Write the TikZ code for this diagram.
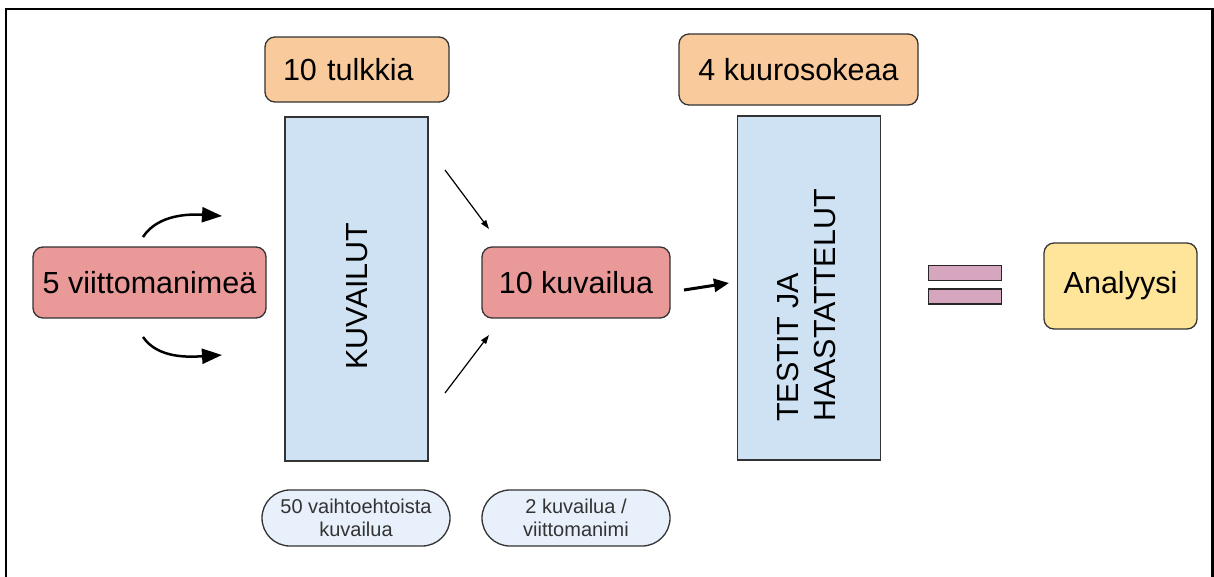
\documentclass[tikz,border=0pt]{standalone}
\usepackage{fontspec}
\setmainfont{Liberation Sans}
\usetikzlibrary{arrows.meta}
\definecolor{korange}{HTML}{F9CB9C}
\definecolor{kblue}{HTML}{CFE2F3}
\definecolor{kred}{HTML}{EA9999}
\definecolor{kyellow}{HTML}{FFE599}
\definecolor{kpink}{HTML}{D5A6BD}
\definecolor{kpale}{HTML}{E8F0FB}
\tikzset{
 box/.style={draw=black!80,line width=1.3pt,rounded corners=10pt,inner sep=0pt},
 tall/.style={draw=black!80,line width=1.3pt,fill=kblue,inner sep=0pt,minimum width=143pt,minimum height=344pt},
 pill/.style={draw=black!80,line width=1.3pt,fill=kpale,rounded corners=28pt,inner sep=0pt,
   minimum width=188pt,minimum height=56pt,align=center,text=black!80,font=\fontsize{20}{23}\selectfont},
 bar/.style={draw=black!85,line width=1.3pt,fill=kpink,inner sep=0pt,minimum width=73pt,minimum height=15pt},
}
\begin{document}
\begin{tikzpicture}[>={Triangle[length=20pt,width=15pt]},font=\fontsize{30.5}{37}\selectfont,x=1pt,y=-1pt]
 \useasboundingbox (0,0) rectangle (1214,576);
 % frame, open at the bottom
 \draw[line width=2.5pt] (6,577) |- (1212.5,9) -- (1212.5,577);
 % upper boxes
 \node[box,fill=korange,minimum width=184pt,minimum height=65pt,text width=148pt,align=left] (tulkit) at (357,69.5) {10 tulkkia};
 \node[box,fill=korange,minimum width=239pt,minimum height=71pt] (sokeat) at (798.5,69.5) {4 kuurosokeaa};
 % tall blocks
 \node[tall] (kuvailut) at (356.5,289) {};
 \node[rotate=90,inner sep=0pt] (kuvtext) at (357,296) {KUVAILUT};
 \node[tall] (testit) at (809,288) {};
 \node[rotate=90,inner sep=0pt,anchor=west,align=left] (testtext) at (806.5,422) {TESTIT JA\\HAASTATTELUT};
 % middle row
 \node[box,fill=kred,minimum width=233pt,minimum height=71pt] (nimet) at (149.5,282.5) {5 viittomanimeä};
 \node[box,fill=kred,minimum width=188pt,minimum height=71pt] (kuv10) at (576,282.5) {10 kuvailua};
 \node[bar] (bar1) at (965,273) {};
 \node[bar] (bar2) at (965,296.5) {};
 \node[box,fill=kyellow,minimum width=153pt,minimum height=86pt] (analyysi) at (1120.5,286) {Analyysi};
 % notes below
 \node[pill] (vaiht) at (356,518) {50 vaihtoehtoista\\kuvailua};
 \node[pill] (pernimi) at (576,518) {2 kuvailua /\\viittomanimi};
 % arrows
 \coordinate (up0) at (143,237); \coordinate (up1) at (222,216);
 \coordinate (dn0) at (143,337); \coordinate (dn1) at (222,355);
 \draw[->,line width=2.5pt] (up0) .. controls (158,214) and (190,214) .. (up1);
 \draw[->,line width=2.5pt] (dn0) .. controls (158,359) and (190,357) .. (dn1);
 \coordinate (in0) at (445,170); \coordinate (in1) at (489,229);
 \coordinate (in2) at (445,393); \coordinate (in3) at (489,335);
 \draw[-{Triangle[length=9pt,width=6pt]},line width=1.2pt] (in0) -- (in1);
 \draw[-{Triangle[length=9pt,width=6pt]},line width=1.2pt] (in2) -- (in3);
 \coordinate (out0) at (684,290); \coordinate (out1) at (729,283);
 \draw[-{Triangle[length=15pt,width=13pt]},line width=3pt] (out0) -- (out1);
\end{tikzpicture}
\end{document}
